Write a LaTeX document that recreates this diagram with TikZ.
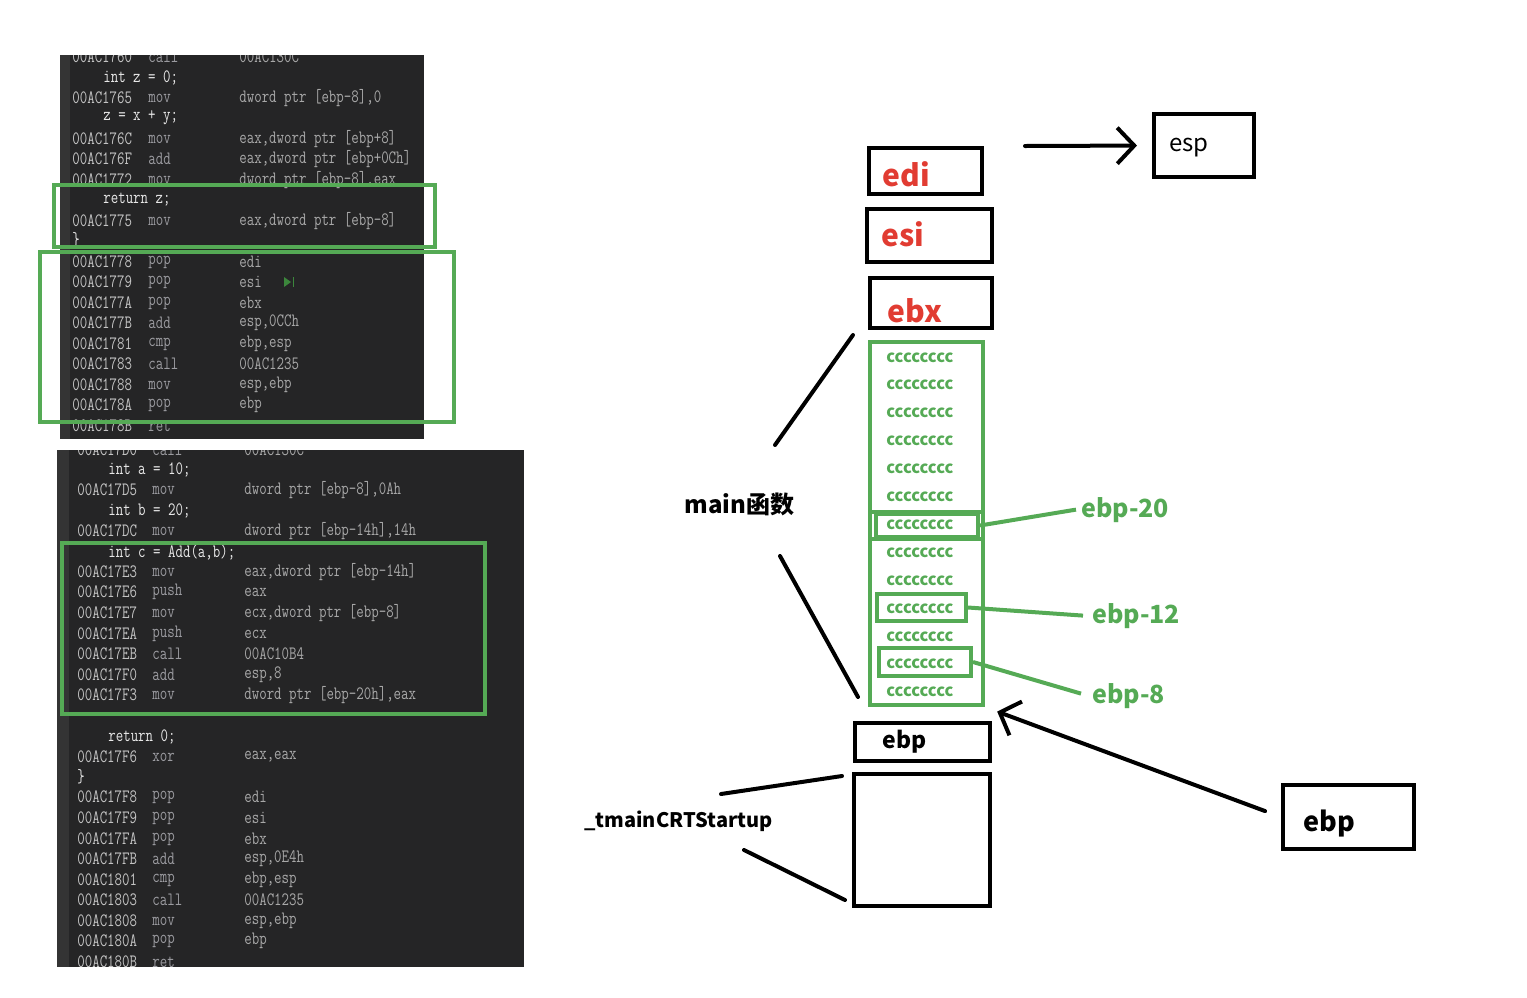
\documentclass[tikz,border=0pt]{standalone}
\usepackage{fontspec}
\usepackage{tikz}
\usetikzlibrary{arrows.meta}
\newfontfamily\cjk{Noto Sans CJK SC}
\definecolor{panelbg}{RGB}{37,37,38}
\definecolor{gutter}{RGB}{52,52,52}
\definecolor{addrgray}{RGB}{196,196,196}
\definecolor{opgray}{RGB}{155,155,160}
\definecolor{arggray}{RGB}{168,168,168}
\definecolor{srcwhite}{RGB}{232,232,232}
\definecolor{hlgreen}{RGB}{85,170,85}
\definecolor{regred}{RGB}{225,60,50}
\definecolor{rungreen}{RGB}{60,135,60}
\newcommand\asmfont{\fontsize{14.5}{14.5}\selectfont\ttfamily}
\newcommand\asm[1]{\scalebox{1}[1.3]{#1}}
\tikzset{every picture/.style={line width=0.75pt},
  asmtxt/.style={anchor=west,inner sep=0pt,font=\asmfont},
  addr/.style={asmtxt,text=addrgray},
  mnem/.style={asmtxt,text=opgray},
  oper/.style={asmtxt,text=arggray},
  srcline/.style={asmtxt,text=srcwhite},
  hlbox/.style={draw=hlgreen,line width=4pt},
  regbox/.style={draw,line width=4pt,inner sep=0pt},
  cellbox/.style={draw=hlgreen,line width=4pt,inner sep=0pt},
  regname/.style={anchor=base west,inner sep=0pt,text=regred,font={\cjk\bfseries\fontsize{30}{30}\selectfont}},
  blkname/.style={anchor=base west,inner sep=0pt,font={\cjk\bfseries\fontsize{23}{23}\selectfont}},
  fillcc/.style={anchor=base west,inner sep=0pt,text=hlgreen,font={\cjk\bfseries\fontsize{16.5}{16.5}\selectfont}},
  offlbl/.style={anchor=base west,inner sep=0pt,text=hlgreen,font={\cjk\bfseries\fontsize{25}{25}\selectfont}},
  pen/.style={line width=4pt,line cap=round},
  barb/.style={pen,-{Straight Barb[length=17pt,width=36pt]}}
}
\begin{document}
\begin{tikzpicture}[x=1pt,y=1pt,yscale=-1]
\useasboundingbox (0,0) rectangle (1527,997);

%Shape: Rectangle (upper code panel)
\begin{scope}
\clip (60,55) rectangle (424,439);
\fill[panelbg] (60,55) rectangle (424,439);
\fill[gutter] (60,55) rectangle (70,439);
\foreach \y/\a/\m/\o in {57/00AC1760/call/00AC130C,
  98/00AC1765/mov/{dword ptr [ebp-8],0},
  139/00AC176C/mov/{eax,dword ptr [ebp+8]},
  159/00AC176F/add/{eax,dword ptr [ebp+0Ch]},
  180/00AC1772/mov/{dword ptr [ebp-8],eax},
  221/00AC1775/mov/{eax,dword ptr [ebp-8]},
  262/00AC1778/pop/edi, 282/00AC1779/pop/esi, 303/00AC177A/pop/ebx,
  323/00AC177B/add/{esp,0CCh}, 344/00AC1781/cmp/{ebp,esp},
  364/00AC1783/call/00AC1235, 385/00AC1788/mov/{esp,ebp},
  405/00AC178A/pop/ebp, 426/00AC178B/ret/{}}{
  \node[addr] (ta\y) at (72,\y) {\asm{\a}};
  \node[mnem] (tm\y) at (148,\y) {\asm{\m}};
  \node[oper] (to\y) at (239,\y) {\asm{\o}};
}
\foreach \y/\s in {78/{int z = 0;}, 118/{z = x + y;}, 200/{return z;}}
  \node[srcline] (ts\y) at (103,\y) {\asm{\s}};
\node[srcline] (tclose) at (72,240) {\asm{\}}};
% run marker
\fill[rungreen] (284,277) -- (291,282) -- (284,287) -- cycle;
\fill[rungreen] (292.5,277) rectangle (294,287);
\end{scope}

%Shape: Rectangle (lower code panel)
\begin{scope}
\clip (57,450) rectangle (524,967);
\fill[panelbg] (57,450) rectangle (524,967);
\fill[gutter] (57,450) rectangle (69,967);
\foreach \y/\a/\m/\o in {450/00AC17D0/call/00AC130C,
  490/00AC17D5/mov/{dword ptr [ebp-8],0Ah},
  531/00AC17DC/mov/{dword ptr [ebp-14h],14h},
  572/00AC17E3/mov/{eax,dword ptr [ebp-14h]},
  592/00AC17E6/push/eax,
  613/00AC17E7/mov/{ecx,dword ptr [ebp-8]},
  634/00AC17EA/push/ecx, 654/00AC17EB/call/00AC10B4,
  675/00AC17F0/add/{esp,8},
  695/00AC17F3/mov/{dword ptr [ebp-20h],eax},
  757/00AC17F6/xor/{eax,eax},
  797/00AC17F8/pop/edi, 818/00AC17F9/pop/esi, 839/00AC17FA/pop/ebx,
  859/00AC17FB/add/{esp,0E4h}, 880/00AC1801/cmp/{ebp,esp},
  900/00AC1803/call/00AC1235, 921/00AC1808/mov/{esp,ebp},
  941/00AC180A/pop/ebp, 962/00AC180B/ret/{}}{
  \node[addr] (ba\y) at (77,\y) {\asm{\a}};
  \node[mnem] (bm\y) at (152,\y) {\asm{\m}};
  \node[oper] (bo\y) at (244,\y) {\asm{\o}};
}
\foreach \y/\s in {470/{int a = 10;}, 511/{int b = 20;}, 552/{int c = Add(a,b);}, 737/{return 0;}}
  \node[srcline] (bs\y) at (108,\y) {\asm{\s}};
\node[srcline] (bclose) at (77,777) {\asm{\}}};
\end{scope}

%Shape: Rectangle (highlights)
\draw[hlbox] (54,185) rectangle (435,247);
\draw[hlbox] (40,252) rectangle (454,422);
\draw[hlbox] (61.5,543) rectangle (485,714);

%Shape: Rectangle (saved registers)
\node[regbox,minimum width=113,minimum height=46] (edibox) at (925.5,171) {};
\node[regbox,minimum width=125,minimum height=53] (esibox) at (929.5,235.5) {};
\node[regbox,minimum width=122,minimum height=50] (ebxbox) at (931,303) {};
\node[regbox,minimum width=100,minimum height=63] (espbox) at (1204,145.5) {};
% Text Node
\node[regname] (edi) at (882,186) {edi};
\node[regname] (esi) at (881,246) {esi};
\node[regname] (ebx) at (887,322) {ebx};
\node[blkname,font={\cjk\fontsize{24}{24}\selectfont}] (esp) at (1169,151) {esp};

%Straight Lines
\coordinate (espfrom) at (1025,146);
\draw[barb,shorten >=15pt] (espfrom) -- (espbox.west);

%Shape: Rectangle (main frame)
\node[draw=hlgreen,line width=4pt,inner sep=0pt,minimum width=113,minimum height=363] (mainfr) at (926.5,523.5) {};
\foreach \i in {0,...,12}
  \node[fillcc] (cc\i) at (886,{362+27.9*\i}) {cccccccc};
\node[cellbox,minimum width=102,minimum height=23] (c20) at (927,525.5) {};
\draw[hlbox] (mainfr.west |- c20.north) -- (mainfr.east |- c20.north);
\draw[hlbox] (mainfr.west |- c20.south) -- (mainfr.east |- c20.south);
\node[cellbox,minimum width=89,minimum height=27] (c12) at (921.5,607.5) {};
\node[cellbox,minimum width=92,minimum height=28] (c8) at (925,662) {};

% Text Node
\node[offlbl] (l20) at (1081,517) {ebp-20};
\node[offlbl] (l12) at (1092,623) {ebp-12};
\node[offlbl] (l8) at (1092,703) {ebp-8};
\draw[hlbox] (c20.east) -- ([xshift=-5pt]l20.west);
\draw[hlbox] (c12.east) -- ([xshift=-9pt]l12.west);
\draw[hlbox] (c8.east) -- ([xshift=-11pt,yshift=-2pt]l8.west);

%Shape: Rectangle (caller frame)
\node[regbox,minimum width=135,minimum height=38] (ebpbox) at (922.5,742) {};
\node[regbox,minimum width=136,minimum height=132] (crtbox) at (922,840) {};
\node[regbox,minimum width=131,minimum height=64] (ebpreg) at (1348.5,817) {};
% Text Node
\node[blkname] (ebpsaved) at (882,748) {ebp};
\node[blkname,font={\cjk\bfseries\fontsize{27}{27}\selectfont}] (ebpname) at (1303,831) {ebp};
\node[blkname,font={\cjk\bfseries\fontsize{24}{24}\selectfont}] (mainlbl) at (684,513) {main函数};
\node[blkname,font={\cjk\bfseries\fontsize{20}{20}\selectfont}] (crtlbl) at (584,827) {\_tmainCRTStartup};

%Straight Lines
\coordinate (mainA) at (775,445);
\coordinate (mainB) at (853,335);
\coordinate (mainC) at (780,556);
\coordinate (mainD) at (858,697);
\draw[pen] (mainA) -- (mainB);
\draw[pen] (mainC) -- (mainD);
\coordinate (crtA) at (721,794);
\coordinate (crtB) at (842,776);
\coordinate (crtC) at (744,850);
\coordinate (crtD) at (845,900);
\draw[pen] (crtA) -- (crtB);
\draw[pen] (crtC) -- (crtD);
\draw[barb,shorten <=17pt,shorten >=13pt] (ebpreg.west) -- (mainfr.south east);
\end{tikzpicture}
\end{document}
